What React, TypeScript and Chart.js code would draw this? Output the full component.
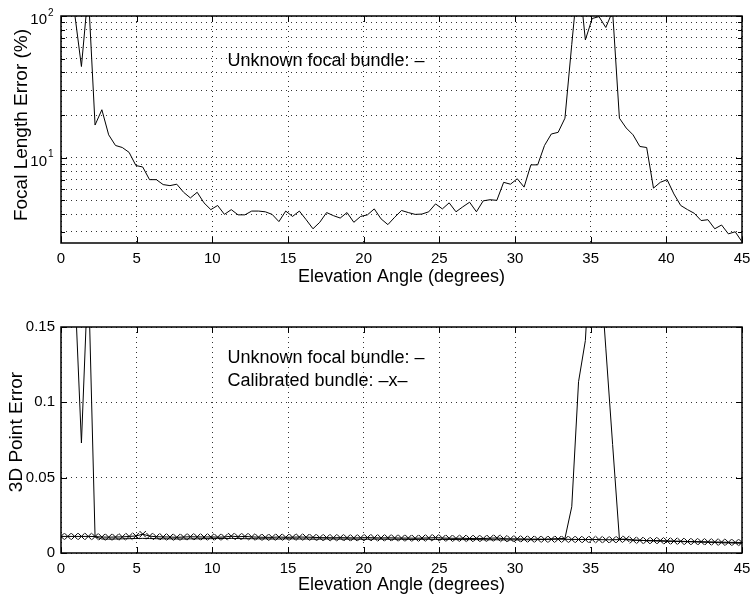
import { useEffect, useRef } from 'react';
import { Chart, registerables } from 'chart.js';

Chart.register(...registerables);

// ---- data ----
const angles = [
  0, 0.45, 0.9, 1.35, 1.8, 2.25, 2.7, 3.15, 3.6, 4.05,
  4.5, 4.95, 5.4, 5.85, 6.3, 6.75, 7.2, 7.65, 8.1, 8.55,
  9, 9.45, 9.9, 10.35, 10.8, 11.25, 11.7, 12.15, 12.6, 13.05,
  13.5, 13.95, 14.4, 14.85, 15.3, 15.75, 16.2, 16.65, 17.1, 17.55,
  18, 18.45, 18.9, 19.35, 19.8, 20.25, 20.7, 21.15, 21.6, 22.05,
  22.5, 22.95, 23.4, 23.85, 24.3, 24.75, 25.2, 25.65, 26.1, 26.55,
  27, 27.45, 27.9, 28.35, 28.8, 29.25, 29.7, 30.15, 30.6, 31.05,
  31.5, 31.95, 32.4, 32.85, 33.3, 33.75, 34.2, 34.65, 35.1, 35.55,
  36, 36.45, 36.9, 37.35, 37.8, 38.25, 38.7, 39.15, 39.6, 40.05,
  40.5, 40.95, 41.4, 41.85, 42.3, 42.75, 43.2, 43.65, 44.1, 44.55, 45,
];

const focalErrUnknown = [
  400, 600, 105, 44, 150, 17, 21.8, 14.5, 12.2, 11.8,
  10.9, 8.8, 8.6, 7.0, 7.0, 6.46, 6.35, 6.5, 5.7, 5.2,
  5.7, 4.8, 4.3, 4.6, 3.98, 4.3, 3.95, 3.95, 4.2, 4.2,
  4.15, 3.98, 3.54, 4.2, 3.85, 4.2, 3.65, 3.15, 3.5, 4.1,
  3.9, 3.75, 4.1, 3.5, 3.85, 3.95, 4.35, 3.7, 3.37, 3.8,
  4.24, 4.1, 3.98, 4.0, 4.15, 4.72, 4.35, 4.8, 4.15, 4.5,
  4.85, 4.15, 4.96, 5.05, 5.0, 6.7, 6.5, 7.1, 6.2, 8.9,
  8.9, 12.2, 14.7, 15.1, 19.0, 63, 200, 67.8, 96, 99,
  83, 108, 19, 16.2, 14.5, 12.0, 11.8, 6.1, 6.7, 7.0,
  5.55, 4.6, 4.3, 4.05, 3.6, 3.65, 3.15, 3.35, 2.9, 3.0, 2.55,
];

const pointErrUnknown = [
  0.5, 0.3, 0.18, 0.073, 0.188, 0.0108, 0.0093, 0.0092, 0.0093, 0.0094,
  0.0095, 0.0096, 0.0097, 0.0096, 0.0095, 0.0094, 0.0094, 0.0093, 0.0093, 0.0094,
  0.0094, 0.0095, 0.0095, 0.0096, 0.0096, 0.0097, 0.0096, 0.0095, 0.0095, 0.0094,
  0.0094, 0.0093, 0.0093, 0.0094, 0.0094, 0.0093, 0.0093, 0.0092, 0.0092, 0.0093,
  0.0093, 0.0092, 0.0092, 0.0092, 0.0091, 0.0091, 0.0092, 0.0092, 0.0091, 0.0091,
  0.0091, 0.009, 0.009, 0.0091, 0.0091, 0.009, 0.009, 0.009, 0.0089, 0.0089,
  0.0089, 0.0089, 0.0088, 0.0088, 0.0088, 0.0087, 0.0087, 0.0087, 0.0088, 0.0088,
  0.0089, 0.009, 0.0093, 0.0095, 0.0097, 0.0307, 0.1137, 0.141, 0.22, 0.2,
  0.136, 0.072, 0.0093, 0.0088, 0.0086, 0.0084, 0.0082, 0.008, 0.0079, 0.0078,
  0.0077, 0.0076, 0.0075, 0.0074, 0.0072, 0.0071, 0.007, 0.0068, 0.0067, 0.0066, 0.0064,
];

const pointErrCalibrated = [
  0.011, 0.011, 0.011, 0.011, 0.011, 0.0109, 0.0106, 0.0105, 0.0106, 0.0107,
  0.011, 0.0113, 0.0125, 0.0112, 0.0108, 0.0107, 0.0106, 0.0104, 0.0106, 0.0108,
  0.0107, 0.0106, 0.0107, 0.0105, 0.0106, 0.0112, 0.0108, 0.011, 0.0107, 0.0105,
  0.0104, 0.0104, 0.0106, 0.0104, 0.0105, 0.0106, 0.0105, 0.0104, 0.0102, 0.0102,
  0.0101, 0.0102, 0.0101, 0.01, 0.0101, 0.0102, 0.0101, 0.01, 0.0101, 0.01,
  0.0099, 0.0099, 0.0098, 0.0099, 0.01, 0.0102, 0.0099, 0.0098, 0.0097, 0.0098,
  0.0096, 0.0097, 0.0096, 0.0098, 0.01, 0.0095, 0.0094, 0.0094, 0.0093, 0.0092,
  0.0092, 0.0091, 0.0091, 0.0092, 0.0091, 0.009, 0.009, 0.0089, 0.009, 0.0089,
  0.0088, 0.0088, 0.0089, 0.0093, 0.0085, 0.0084, 0.0082, 0.0083, 0.0082, 0.008,
  0.0079, 0.0078, 0.0076, 0.0076, 0.0075, 0.0074, 0.0073, 0.0072, 0.0071, 0.007, 0.007,
];

const xTicks = [0, 5, 10, 15, 20, 25, 30, 35, 40, 45];
const focalGridTicks = [3, 4, 5, 6, 7, 8, 9, 10, 20, 30, 40, 50, 60, 70, 80, 90, 100];
const focalDecades = [10, 100];
const focalDecadeExps = ['1', '2'];
const pointTicks = [0, 0.05, 0.1, 0.15];
const pointTickLabels = ['0', '0.05', '0.1', '0.15'];

const xTitle = 'Elevation Angle (degrees)';
const topYTitle = 'Focal Length Error (%)';
const bottomYTitle = '3D Point Error';
const topNotes = [{ text: 'Unknown focal bundle: \u2013', x: 11, y: 48 }];
const bottomNotes = [
  { text: 'Unknown focal bundle: \u2013', x: 11, y: 0.1294 },
  { text: 'Calibrated bundle: \u2013x\u2013', x: 11, y: 0.114 },
];

const FONT = '"Liberation Sans", Arial, Helvetica, sans-serif';
const GRID = 'rgba(0,0,0,0.8)';

type Note = { text: string; x: number; y: number };
type YTitle = { text: string; baselineX: number; centerY: number };

function makeFramePlugin(notes: Note[], logLabels: boolean, yTitle: YTitle) {
  return {
    id: 'matlabFrame',
    afterDraw(chart: any) {
      const { ctx, chartArea: a, scales } = chart;
      const xs = scales.x;
      const ys = scales.y;
      ctx.save();
      ctx.strokeStyle = '#000';
      ctx.lineWidth = 1;
      ctx.beginPath();
      for (const t of xs.ticks) {
        const px = Math.round(xs.getPixelForValue(t.value)) + 0.5;
        ctx.moveTo(px, a.bottom);
        ctx.lineTo(px, a.bottom - 6);
        ctx.moveTo(px, a.top);
        ctx.lineTo(px, a.top + 6);
      }
      for (const t of ys.ticks) {
        const py = Math.round(ys.getPixelForValue(t.value)) + 0.5;
        const major = !logLabels || focalDecades.includes(t.value);
        const len = major ? 6 : 4;
        ctx.moveTo(a.left, py);
        ctx.lineTo(a.left + len, py);
        ctx.moveTo(a.right, py);
        ctx.lineTo(a.right - len, py);
      }
      ctx.stroke();
      ctx.lineWidth = 1.5;
      ctx.strokeRect(a.left, a.top, a.right - a.left, a.bottom - a.top);

      ctx.fillStyle = '#000';
      ctx.font = `18px ${FONT}`;
      ctx.textAlign = 'left';
      ctx.textBaseline = 'middle';
      for (const n of notes) {
        ctx.fillText(n.text, xs.getPixelForValue(n.x), ys.getPixelForValue(n.y));
      }

      if (logLabels) {
        focalDecades.forEach((v, i) => {
          const py = ys.getPixelForValue(v);
          ctx.font = `15px ${FONT}`;
          ctx.textAlign = 'right';
          ctx.textBaseline = 'middle';
          ctx.fillText('10', a.left - 14, py + 4);
          ctx.font = `10px ${FONT}`;
          ctx.textAlign = 'left';
          ctx.fillText(focalDecadeExps[i], a.left - 13, py - 3);
        });
      }

      // y-axis title (rotated)
      ctx.save();
      ctx.translate(yTitle.baselineX, yTitle.centerY);
      ctx.rotate(-Math.PI / 2);
      ctx.font = `19px ${FONT}`;
      ctx.textAlign = 'center';
      ctx.textBaseline = 'alphabetic';
      ctx.fillText(yTitle.text, 0, 0);
      ctx.restore();

      ctx.restore();
    },
  };
}

const xScale = (titlePadBottom: number, height: number) => ({
  type: 'linear' as const,
  min: 0,
  max: 45,
  afterBuildTicks: (s: any) => {
    s.ticks = xTicks.map((v) => ({ value: v }));
  },
  afterFit: (s: any) => {
    s.height = height;
    s.paddingLeft = 0;
    s.paddingRight = 0;
  },
  ticks: {
    color: '#000',
    font: { family: FONT, size: 15 },
    padding: 7,
    maxRotation: 0,
    autoSkip: false,
    callback: (v: any) => String(v),
  },
  grid: { color: GRID, lineWidth: 1, drawTicks: false },
  border: { display: false, dash: [1, 4] },
  title: {
    display: true,
    text: xTitle,
    color: '#000',
    font: { family: FONT, size: 18 },
    padding: { top: 0, bottom: titlePadBottom },
  },
});

function TopChart() {
  const ref = useRef<HTMLCanvasElement>(null);
  useEffect(() => {
    if (!ref.current) return;
    const chart = new Chart(ref.current, {
      type: 'line',
      data: {
        datasets: [
          {
            data: angles.map((x, i) => ({ x, y: focalErrUnknown[i] })),
            borderColor: '#000',
            borderWidth: 1,
            pointRadius: 0,
            tension: 0,
            fill: false,
          },
        ],
      },
      options: {
        responsive: false,
        animation: false,
        events: [],
        layout: { padding: { left: 0, right: 9, top: 16, bottom: 0 } },
        plugins: { legend: { display: false }, tooltip: { enabled: false } },
        scales: {
          x: xScale(12, 57),
          y: {
            type: 'logarithmic',
            min: 2.5,
            max: 100,
            afterBuildTicks: (s: any) => {
              s.ticks = focalGridTicks.map((v) => ({ value: v }));
            },
            afterFit: (s: any) => {
              s.width = 61;
            },
            ticks: { display: false },
            grid: { color: GRID, lineWidth: 1, drawTicks: false },
            border: { display: false, dash: [1, 4] },
          },
        },
      },
      plugins: [makeFramePlugin(topNotes, true, { text: topYTitle, baselineX: 27, centerY: 125 })],
    } as any);
    return () => chart.destroy();
  }, []);
  return <canvas ref={ref} width={751} height={300} style={{ display: 'block' }} />;
}

function BottomChart() {
  const ref = useRef<HTMLCanvasElement>(null);
  useEffect(() => {
    if (!ref.current) return;
    const chart = new Chart(ref.current, {
      type: 'line',
      data: {
        datasets: [
          {
            data: angles.map((x, i) => ({ x, y: pointErrUnknown[i] })),
            borderColor: '#000',
            borderWidth: 1,
            pointRadius: 0,
            tension: 0,
            fill: false,
          },
          {
            data: angles.map((x, i) => ({ x, y: pointErrCalibrated[i] })),
            borderColor: '#000',
            borderWidth: 1,
            pointStyle: 'crossRot',
            pointRadius: 4.5,
            pointBorderWidth: 1,
            pointBorderColor: '#000',
            pointBackgroundColor: 'rgba(0,0,0,0)',
            tension: 0,
            fill: false,
          },
        ],
      },
      options: {
        responsive: false,
        animation: false,
        events: [],
        layout: { padding: { left: 0, right: 9, top: 27, bottom: 0 } },
        plugins: { legend: { display: false }, tooltip: { enabled: false } },
        scales: {
          x: xScale(5, 48),
          y: {
            type: 'linear',
            min: 0,
            max: 0.15,
            afterBuildTicks: (s: any) => {
              s.ticks = pointTicks.map((v) => ({ value: v }));
            },
            afterFit: (s: any) => {
              s.width = 61;
            },
            ticks: {
              color: '#000',
              font: { family: FONT, size: 15 },
              padding: 6,
              callback: (_v: any, i: number) => pointTickLabels[i],
            },
            grid: { color: GRID, lineWidth: 1, drawTicks: false },
            border: { display: false, dash: [1, 4] },
          },
        },
      },
      plugins: [makeFramePlugin(bottomNotes, false, { text: bottomYTitle, baselineX: 22, centerY: 132 })],
    } as any);
    return () => chart.destroy();
  }, []);
  return <canvas ref={ref} width={751} height={301} style={{ display: 'block' }} />;
}

export default function App() {
  return (
    <div
      style={{
        position: 'absolute',
        left: 0,
        top: 0,
        width: 751,
        height: 601,
        background: '#fff',
      }}
    >
      <TopChart />
      <BottomChart />
    </div>
  );
}
